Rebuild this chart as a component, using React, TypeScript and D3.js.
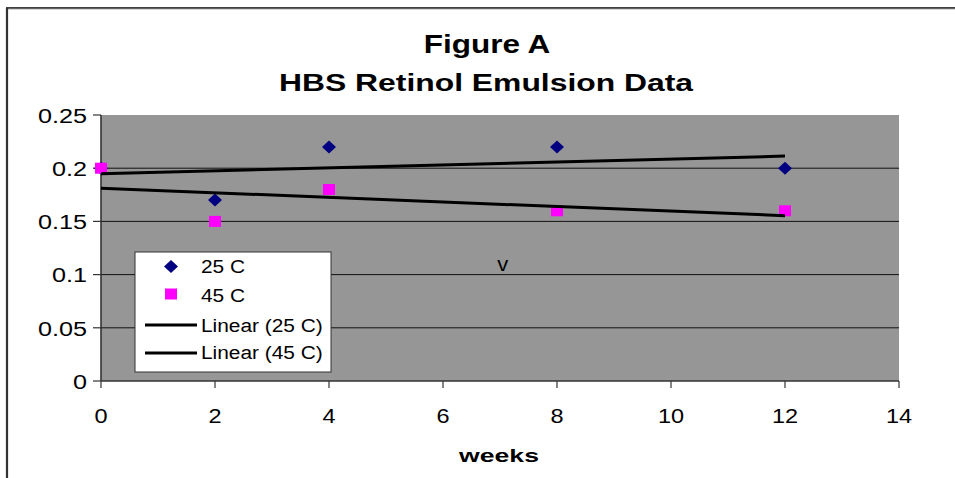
import React from "react";
import * as d3 from "d3";

const weeks = [0, 2, 4, 8, 12];
const series25 = [0.2, 0.17, 0.22, 0.22, 0.2];
const series45 = [0.2, 0.15, 0.18, 0.16, 0.16];
const xTicks = [0, 2, 4, 6, 8, 10, 12, 14];
const yTicks = [0, 0.05, 0.1, 0.15, 0.2, 0.25];
const yTickLabels = ["0", "0.05", "0.1", "0.15", "0.2", "0.25"];
const titleLines = ["Figure A", "HBS Retinol Emulsion Data"];
const xLabel = "weeks";
const legendLabels = ["25 C", "45 C", "Linear (25 C)", "Linear (45 C)"];
const annotation = { x: 7.05, y: 0.103, text: "v" };

const W = 955;
const H = 478;
const FONT = "Arial, 'Liberation Sans', sans-serif";

function fit(xs: number[], ys: number[]) {
  const mx = d3.mean(xs) as number;
  const my = d3.mean(ys) as number;
  let sxy = 0;
  let sxx = 0;
  xs.forEach((x, i) => {
    sxy += (x - mx) * (ys[i] - my);
    sxx += (x - mx) * (x - mx);
  });
  const b = sxy / sxx;
  const a = my - b * mx;
  return (x: number) => a + b * x;
}

function SText(props: {
  x: number;
  y: number;
  sx: number;
  size: number;
  anchor?: string;
  bold?: boolean;
  children: React.ReactNode;
}) {
  const { x, y, sx, size, anchor, bold, children } = props;
  return (
    <g transform={`translate(${x},${y}) scale(${sx},1)`}>
      <text
        textAnchor={anchor || "start"}
        fontFamily={FONT}
        fontSize={size}
        fontWeight={bold ? "bold" : "normal"}
        fill="#000"
      >
        {children}
      </text>
    </g>
  );
}

export default function App() {
  const x = d3.scaleLinear().domain([0, 14]).range([101, 899]);
  const y = d3.scaleLinear().domain([0, 0.25]).range([381, 115]);

  const f25 = fit(weeks, series25);
  const f45 = fit(weeks, series45);
  const xmin = d3.min(weeks) as number;
  const xmax = d3.max(weeks) as number;
  const trend25 = d3.line<number>().x((d) => x(d)).y((d) => y(f25(d)))([xmin, xmax]) || "";
  const trend45 = d3.line<number>().x((d) => x(d)).y((d) => y(f45(d)))([xmin, xmax]) || "";

  const diamond = (cx: number, cy: number) =>
    `M${cx},${cy - 6.5}L${cx + 7},${cy}L${cx},${cy + 6.5}L${cx - 7},${cy}Z`;

  const [x0, x1] = x.range();
  const [yb, yt] = y.range();

  const lgX = 135;
  const lgY = 252;
  const lgW = 196;
  const lgH = 120;

  return (
    <svg
      width={W}
      height={H}
      style={{ position: "absolute", left: 0, top: 0, background: "#fff" }}
    >
      {/* outer frame */}
      <line x1={6} y1={8} x2={W} y2={8} stroke="#000" strokeWidth={1.6} />
      <line x1={6} y1={9} x2={W} y2={9} stroke="#999" strokeWidth={0.8} />
      <line x1={7} y1={8} x2={7} y2={H} stroke="#333" strokeWidth={2.2} />

      {/* titles */}
      <SText x={487} y={53} sx={1.26} size={25} anchor="middle" bold>
        {titleLines[0]}
      </SText>
      <SText x={486} y={91} sx={1.3} size={24.5} anchor="middle" bold>
        {titleLines[1]}
      </SText>

      {/* plot area */}
      <rect x={x0} y={yt} width={x1 - x0} height={yb - yt} fill="#969696" />

      {/* gridlines */}
      {yTicks
        .filter((t) => t > 0 && t < 0.25)
        .map((t) => (
          <line key={t} x1={x0} x2={x1} y1={y(t)} y2={y(t)} stroke="#111" strokeWidth={1} />
        ))}

      {/* axes */}
      <line x1={x0} y1={yt} x2={x0} y2={yb} stroke="#333" strokeWidth={1.6} />
      <line x1={x0} y1={yb} x2={x1} y2={yb} stroke="#333" strokeWidth={1.6} />
      {yTicks.map((t, i) => (
        <g key={"yt" + t}>
          <line x1={x0 - 8} x2={x0} y1={y(t)} y2={y(t)} stroke="#333" strokeWidth={1.2} />
          <SText x={87} y={y(t) + 7.8} sx={1.2} size={21} anchor="end">
            {yTickLabels[i]}
          </SText>
        </g>
      ))}
      {xTicks.map((t) => (
        <g key={"xt" + t}>
          <line x1={x(t)} x2={x(t)} y1={yb} y2={yb + 7} stroke="#333" strokeWidth={1.2} />
          <SText x={x(t)} y={423} sx={1.12} size={21} anchor="middle">
            {String(t)}
          </SText>
        </g>
      ))}

      {/* 25 C markers */}
      {weeks.map((w, i) => (
        <path key={"d" + i} d={diamond(x(w), y(series25[i]))} fill="#000080" />
      ))}
      {/* 45 C markers */}
      {weeks.map((w, i) => (
        <rect
          key={"s" + i}
          x={x(w) - 6}
          y={y(series45[i]) - 5.5}
          width={12}
          height={11}
          fill="#ff00ff"
        />
      ))}

      {/* trendlines */}
      <path d={trend25} stroke="#000" strokeWidth={3} fill="none" />
      <path d={trend45} stroke="#000" strokeWidth={3} fill="none" />

      {/* annotation */}
      <SText x={x(annotation.x)} y={y(annotation.y)} sx={1.1} size={20} anchor="middle">
        {annotation.text}
      </SText>

      {/* legend */}
      <rect x={lgX} y={lgY} width={lgW} height={lgH} fill="#fff" stroke="#333" strokeWidth={1} />
      <path d={diamond(171, 266.5)} fill="#000080" />
      <rect x={165} y={288.5} width={12} height={11} fill="#ff00ff" />
      <line x1={145} x2={197} y1={325} y2={325} stroke="#000" strokeWidth={3} />
      <line x1={145} x2={197} y1={353} y2={353} stroke="#000" strokeWidth={3} />
      <SText x={201} y={273} sx={1.16} size={18}>{legendLabels[0]}</SText>
      <SText x={201} y={301.5} sx={1.16} size={18}>{legendLabels[1]}</SText>
      <SText x={201} y={331.5} sx={1.16} size={18}>{legendLabels[2]}</SText>
      <SText x={201} y={359} sx={1.16} size={18}>{legendLabels[3]}</SText>

      {/* x label */}
      <SText x={499} y={462} sx={1.4} size={19} anchor="middle" bold>
        {xLabel}
      </SText>
    </svg>
  );
}
